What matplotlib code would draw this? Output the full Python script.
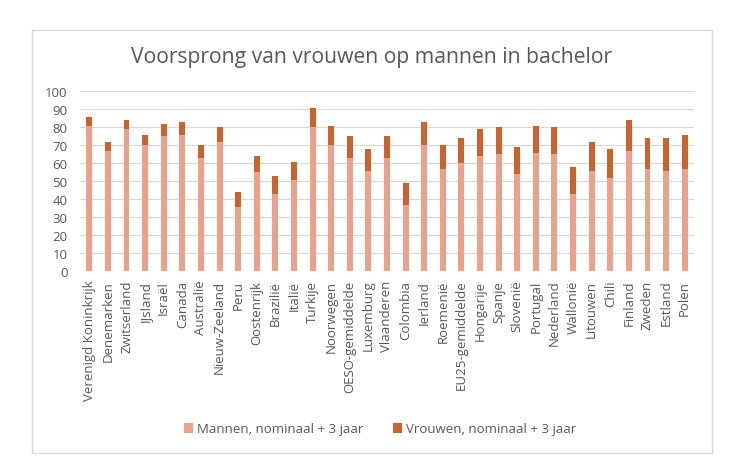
import numpy as np
import matplotlib.pyplot as plt
from matplotlib.patches import Rectangle

landen = ['Verenigd Koninkrijk', 'Denemarken', 'Zwitserland', 'IJsland', 'Israël', 'Canada',
          'Australië', 'Nieuw-Zeeland', 'Peru', 'Oostenrijk', 'Brazilië', 'Italië', 'Turkije',
          'Noorwegen', 'OESO-gemiddelde', 'Luxemburg', 'Vlaanderen', 'Colombia', 'Ierland',
          'Roemenië', 'EU25-gemiddelde', 'Hongarije', 'Spanje', 'Slovenië', 'Portugal',
          'Nederland', 'Wallonië', 'Litouwen', 'Chili', 'Finland', 'Zweden', 'Estland', 'Polen']
mannen = [81, 67, 79, 70, 75, 76, 63, 72, 36, 55, 43, 51, 80, 70, 63, 56, 63, 37, 70,
          57, 60, 64, 65, 54, 66, 65, 43, 56, 52, 67, 57, 56, 57]
# voorsprong vrouwen bovenop mannen
vrouwen_extra = [5, 5, 5, 6, 7, 7, 7, 8, 8, 9, 10, 10, 11, 11, 12, 12, 12, 12, 13,
                 13, 14, 15, 15, 15, 15, 15, 15, 16, 16, 17, 17, 18, 19]

grijs = '#595959'
plt.rcParams['font.family'] = ['Open Sans', 'DejaVu Sans']

fig = plt.figure(figsize=(7.51, 4.77), dpi=100)
ax = fig.add_axes([80 / 751, 1 - 272.3 / 477, 614 / 751, 180 / 477])

x = np.arange(len(landen))
ax.bar(x, mannen, width=0.32, color='#EEA08A', label='Mannen, nominaal + 3 jaar', zorder=2)
ax.bar(x, vrouwen_extra, width=0.32, bottom=mannen, color='#CF622B',
       label='Vrouwen, nominaal + 3 jaar', zorder=2)

ax.set_xlim(-0.5, len(landen) - 0.5)
ax.set_ylim(0, 100)
ax.set_yticks(range(0, 101, 10))
ax.set_xticks(x)
ax.set_xticklabels(landen, rotation=90, fontsize=9.5, color=grijs)
ax.tick_params(axis='y', labelsize=9.5, labelcolor=grijs, length=0, pad=9)
ax.tick_params(axis='x', length=0, pad=6)
ax.grid(axis='y', color='#D9D9D9', lw=0.9, zorder=0)
for s in ax.spines.values():
    s.set_visible(False)

fig.text(372 / 751, 1 - 58 / 477, 'Voorsprong van vrouwen op mannen in bachelor',
         ha='center', va='center', fontsize=15.2, color=grijs)

fig.legend(loc='center', bbox_to_anchor=(380 / 751, 1 - 430 / 477), ncol=2, frameon=False,
           fontsize=9.5, labelcolor=grijs, handlelength=0.7, handleheight=0.7,
           handletextpad=0.3, columnspacing=2.2)

fig.patches.append(Rectangle((32 / 751, 1 - 454 / 477), 680 / 751, 423 / 477,
                             transform=fig.transFigure, fill=False, ec='#D9D9D9', lw=1))

fig.savefig('out.png', dpi=100, facecolor='white')
